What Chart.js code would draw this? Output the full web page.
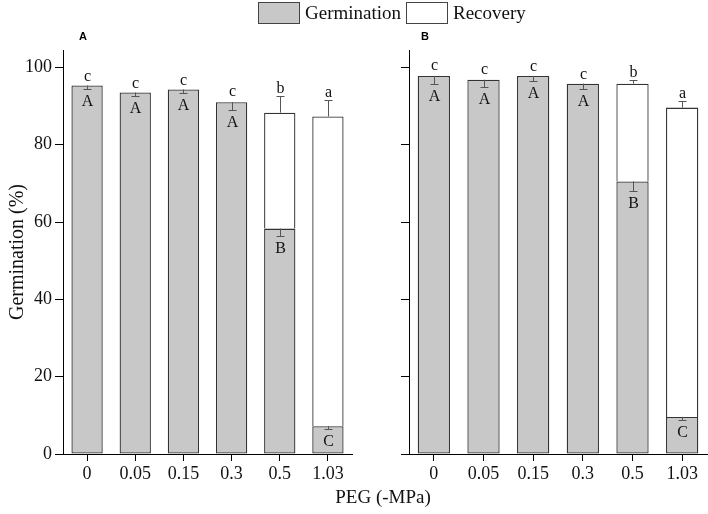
<!DOCTYPE html>
<html>
<head>
<meta charset="utf-8">
<script src="https://cdn.jsdelivr.net/npm/chart.js@4.4.1/dist/chart.umd.min.js"></script>
<style>
  html, body { margin:0; padding:0; background:#fff; }
  #wrap { position:relative; width:708px; height:514px; overflow:hidden; font-family:'Liberation Serif','Times New Roman',serif; }
  canvas { position:absolute; top:0; }
  .lbox { position:absolute; top:2px; width:40px; height:20px; border:1px solid #444; box-sizing:content-box; }
  .ltxt { position:absolute; top:1px; font-size:19px; line-height:24px; color:#111; white-space:nowrap; }
  .panel { position:absolute; top:30px; font-family:'Liberation Sans',Arial,sans-serif; font-weight:bold; font-size:11px; color:#000; }
  #xtitle { position:absolute; left:0; width:766px; text-align:center; top:486px; font-size:19px; line-height:22px; color:#111; }
</style>
</head>
<body>
<div id="wrap">
  <canvas id="cA" width="360" height="514" style="left:0;width:360px;height:514px"></canvas>
  <canvas id="cB" width="348" height="514" style="left:360px;width:348px;height:514px"></canvas>
  <div class="lbox" style="left:258px;background:#c8c8c8"></div>
  <div class="ltxt" style="left:305px">Germination</div>
  <div class="lbox" style="left:406px;background:#fff"></div>
  <div class="ltxt" style="left:453px">Recovery</div>
  <div class="panel" style="left:79px">A</div>
  <div class="panel" style="left:421px">B</div>
  <div id="xtitle">PEG (-MPa)</div>
</div>
<script>
// ---- data ----
const categories = ['0', '0.05', '0.15', '0.3', '0.5', '1.03'];
const yTickValues = [0, 20, 40, 60, 80, 100];

const germA     = [95.3, 93.5, 94.3, 91.0, 58.3, 7.2];
const totalA    = [95.3, 93.5, 94.3, 91.0, 88.3, 87.3];
const germErrA  = [1.0, 0.8, 1.0, 2.0, 2.0, 0.8];
const totalErrA = [0, 0, 0, 0, 4.2, 4.3];
const lowerA    = ['c', 'c', 'c', 'c', 'b', 'a'];
const upperA    = ['A', 'A', 'A', 'A', 'B', 'C'];

const germB     = [97.8, 96.8, 97.8, 95.8, 70.5, 9.6];
const totalB    = [97.8, 96.8, 97.8, 95.8, 95.8, 89.6];
const germErrB  = [2.0, 1.8, 1.2, 1.5, 2.5, 0.8];
const totalErrB = [0, 0, 0, 0, 1.0, 1.6];
const lowerB    = ['c', 'c', 'c', 'c', 'b', 'a'];
const upperB    = ['A', 'A', 'A', 'A', 'B', 'C'];

const Y_MAX = 104.5;
const SERIF = "'Liberation Serif','Times New Roman',serif";

const annotPlugin = {
  id: 'annot',
  afterDatasetsDraw(chart, args, o) {
    const ctx = chart.ctx, x = chart.scales.x, y = chart.scales.y;
    ctx.save();
    ctx.strokeStyle = '#555';
    ctx.lineWidth = 1;
    ctx.fillStyle = '#111';
    ctx.textAlign = 'center';
    ctx.textBaseline = 'alphabetic';
    o.germ.forEach((g, i) => {
      const cx = Math.round(x.getPixelForValue(i)) + 0.5;
      const total = o.total[i];
      const hasRec = total - g > 0.01;
      // germination error (downward)
      const yTop = y.getPixelForValue(g);
      const yCap = Math.round(y.getPixelForValue(g - o.gErr[i])) + 0.5;
      ctx.beginPath();
      ctx.moveTo(cx, yTop); ctx.lineTo(cx, yCap);
      ctx.moveTo(cx - 4, yCap); ctx.lineTo(cx + 4, yCap);
      ctx.stroke();
      // total error (upward)
      let upVal = total + o.gErr[i] * 0.35;
      if (hasRec) {
        const yT = y.getPixelForValue(total);
        const yC = Math.round(y.getPixelForValue(total + o.tErr[i])) + 0.5;
        ctx.beginPath();
        ctx.moveTo(cx, yT); ctx.lineTo(cx, yC);
        ctx.moveTo(cx - 4, yC); ctx.lineTo(cx + 4, yC);
        ctx.stroke();
        upVal = total + o.tErr[i];
      }
      ctx.font = '16px ' + SERIF;
      ctx.fillText(o.lower[i], cx, y.getPixelForValue(upVal) - 3);
      ctx.fillText(o.upper[i], cx, yCap + 6 + 10.5);
    });
    ctx.restore();
  }
};

function makeChart(id, germ, total, gErr, tErr, lower, upper, isLeft) {
  const recovery = total.map((t, i) => (t - germ[i] > 0.01 ? +(t - germ[i]).toFixed(2) : null));
  const common = { borderColor: '#333333', borderWidth: 1.3, barPercentage: 0.65, categoryPercentage: 1 };
  return new Chart(document.getElementById(id), {
    type: 'bar',
    data: {
      labels: categories,
      datasets: [
        Object.assign({ label: 'Germination', data: germ, backgroundColor: '#c8c8c8', borderSkipped: false }, common),
        Object.assign({ label: 'Recovery', data: recovery, backgroundColor: '#ffffff', borderSkipped: 'start' }, common)
      ]
    },
    plugins: [annotPlugin],
    options: {
      responsive: false,
      animation: false,
      devicePixelRatio: 1,
      layout: { padding: { top: 50, right: isLeft ? 8 : 1, left: 0, bottom: 0 } },
      plugins: {
        legend: { display: false },
        tooltip: { enabled: false },
        annot: { germ, total, gErr, tErr, lower, upper }
      },
      scales: {
        x: {
          stacked: true,
          grid: { display: true, offset: false, drawOnChartArea: false, drawTicks: true, tickLength: 7, color: '#000', lineWidth: 1 },
          border: { display: true, color: '#000', width: 1 },
          ticks: { color: '#111', font: { family: SERIF, size: 18 }, padding: 2, maxRotation: 0 },
          afterFit(s) { s.height = 60; }
        },
        y: {
          stacked: true,
          min: 0,
          max: Y_MAX,
          afterBuildTicks(s) { s.ticks = yTickValues.map(v => ({ value: v })); },
          grid: { display: true, drawOnChartArea: false, drawTicks: true, tickLength: 8, color: '#000', lineWidth: 1 },
          border: { display: true, color: '#000', width: 1 },
          ticks: { display: isLeft, color: '#111', font: { family: SERIF, size: 18 }, padding: 3 },
          title: { display: isLeft, text: 'Germination (%)', color: '#111', font: { family: SERIF, size: 20 }, padding: { top: 6, bottom: 0 } },
          afterFit(s) { s.width = isLeft ? 63 : 49; }
        }
      }
    }
  });
}

makeChart('cA', germA, totalA, germErrA, totalErrA, lowerA, upperA, true);
makeChart('cB', germB, totalB, germErrB, totalErrB, lowerB, upperB, false);
</script>
</body>
</html>
